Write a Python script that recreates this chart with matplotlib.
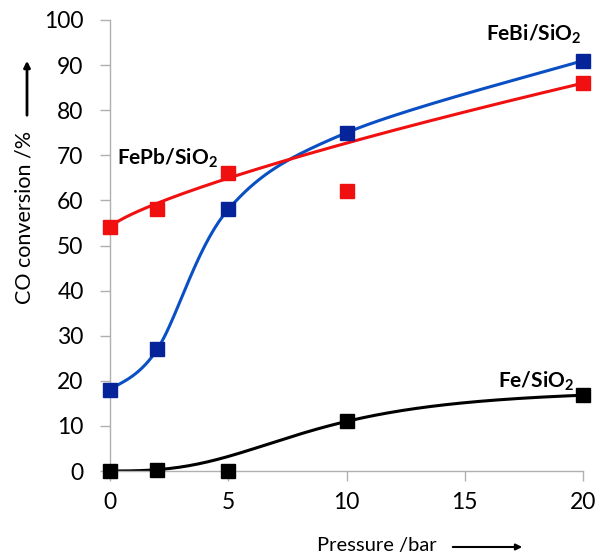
import numpy as np
import matplotlib.pyplot as plt
from matplotlib.patches import FancyArrowPatch

pressure = [0, 2, 5, 10, 20]
fe_conv = [0, 0.3, 0, 11, 16.8]
febi_conv = [18, 27, 58, 75, 91]
fepb_conv = [54, 58, 66, 62, 86]
# points left out of the trend curves
fe_outlier = [False, False, True, False, False]
fepb_outlier = [False, False, False, True, False]

x_ticks = [0, 5, 10, 15, 20]
y_ticks = [0, 10, 20, 30, 40, 50, 60, 70, 80, 90, 100]


def catmull_rom(xs, ys, n=40):
    # smoothed line through the points, like a spreadsheet "smooth line"
    p = np.column_stack([xs, ys]).astype(float)
    p = np.vstack([p[0], p, p[-1]])
    out = []
    t = np.linspace(0, 1, n)[:, None]
    for i in range(1, len(p) - 2):
        p0, p1, p2, p3 = p[i - 1], p[i], p[i + 1], p[i + 2]
        seg = 0.5 * ((2 * p1) + (-p0 + p2) * t
                     + (2 * p0 - 5 * p1 + 4 * p2 - p3) * t ** 2
                     + (-p0 + 3 * p1 - 3 * p2 + p3) * t ** 3)
        out.append(seg)
    out = np.vstack(out)
    return out[:, 0], out[:, 1]


def hill_fit(xs, ys, skip):
    xs, ys = np.asarray(xs, float), np.asarray(ys, float)
    keep = ~np.asarray(skip)
    x, y = xs[keep], ys[keep]
    best = None
    for k in np.linspace(4, 20, 161):
        for n in np.linspace(1, 4, 61):
            f = x ** n / (k ** n + x ** n)
            a = (f @ y) / (f @ f)
            err = np.sum((a * f - y) ** 2)
            if best is None or err < best[0]:
                best = (err, a, k, n)
    _, a, k, n = best
    xx = np.linspace(xs.min(), xs.max(), 200)
    return xx, a * xx ** n / (k ** n + xx ** n)


def power_fit(xs, ys, skip):
    # y = y0 + (yN - y0) * (x / xN) ** p, p fitted on the kept points
    xs, ys = np.asarray(xs, float), np.asarray(ys, float)
    keep = ~np.asarray(skip)
    x0, y0, xn, yn = xs[0], ys[0], xs[-1], ys[-1]
    best = None
    for p in np.linspace(0.3, 1.5, 241):
        pred = y0 + (yn - y0) * ((xs - x0) / (xn - x0)) ** p
        err = np.sum((pred[keep] - ys[keep]) ** 2)
        if best is None or err < best[0]:
            best = (err, p)
    p = best[1]
    xx = np.linspace(x0, xn, 200)
    return xx, y0 + (yn - y0) * ((xx - x0) / (xn - x0)) ** p


plt.rcParams['font.family'] = ['Lato', 'DejaVu Sans']
plt.rcParams['mathtext.fontset'] = 'custom'
plt.rcParams['mathtext.rm'] = 'Lato'
plt.rcParams['mathtext.bf'] = 'Lato:bold'

fig = plt.figure(figsize=(6, 5.56), dpi=100)
ax = fig.add_axes([110 / 600, 1 - 471 / 556, 473 / 600, 451 / 556])

blue_line, blue_mark = '#0a4fc4', '#06249a'
red = '#f01010'

bx, by = catmull_rom(pressure, febi_conv)
ax.plot(bx, by, color=blue_line, lw=2.2, zorder=2)
rx, ry = power_fit(pressure, fepb_conv, fepb_outlier)
ax.plot(rx, ry, color=red, lw=2.2, zorder=2)
kx, ky = hill_fit(pressure, fe_conv, fe_outlier)
ax.plot(kx, ky, color='black', lw=2.2, zorder=2)

ms = 9.5
ax.plot(pressure, febi_conv, 's', color=blue_mark, ms=ms, zorder=3, clip_on=False)
ax.plot(pressure, fepb_conv, 's', color=red, ms=ms, zorder=3, clip_on=False)
ax.plot(pressure, fe_conv, 's', color='black', ms=ms, zorder=3, clip_on=False)

ax.set_xlim(0, 20)
ax.set_ylim(0, 100)
ax.set_xticks(x_ticks)
ax.set_yticks(y_ticks)
ax.tick_params(labelsize=16.5, color='#b0b0b0', length=7, width=1)
ax.tick_params(axis='y', pad=12)
ax.tick_params(axis='x', pad=8)
for s in ['top', 'right']:
    ax.spines[s].set_visible(False)
for s in ['left', 'bottom']:
    ax.spines[s].set_color('#b0b0b0')
    ax.spines[s].set_linewidth(1)

lab = dict(fontsize=15, fontweight='bold')
ax.text(15.9, 95.5, 'FeBi/SiO$_\\mathbf{2}$', **lab)
ax.text(0.3, 68, 'FePb/SiO$_\\mathbf{2}$', **lab)
ax.text(16.4, 18.6, 'Fe/SiO$_\\mathbf{2}$', **lab)

fig.text(25 / 600, 1 - 217 / 556, 'CO conversion /%', rotation=90,
         ha='center', va='center', fontsize=15.5)
fig.text(377 / 600, 1 - 546 / 556, 'Pressure /bar', ha='center',
         va='center', fontsize=14.5)
fig.patches.append(FancyArrowPatch(
    (27 / 600, 1 - 118 / 556), (27 / 600, 1 - 58 / 556),
    transform=fig.transFigure, arrowstyle='-|>', mutation_scale=9,
    lw=2, color='black'))
fig.patches.append(FancyArrowPatch(
    (450 / 600, 1 - 547 / 556), (525 / 600, 1 - 547 / 556),
    transform=fig.transFigure, arrowstyle='-|>', mutation_scale=9,
    lw=1.5, color='black'))

fig.savefig('out.png', dpi=100)
